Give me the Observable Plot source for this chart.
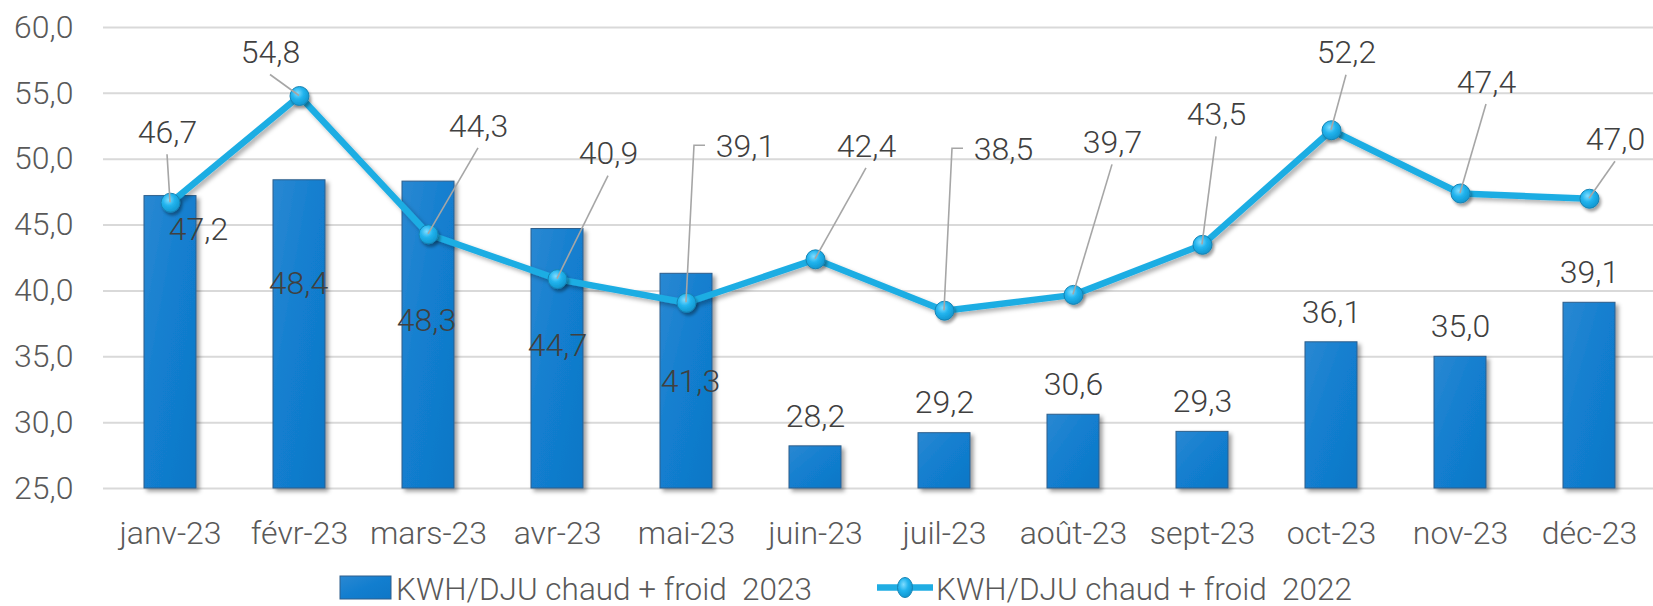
<!DOCTYPE html>
<html>
<head>
<meta charset="utf-8">
<script src="https://cdn.jsdelivr.net/npm/d3@7"></script>
<script src="https://cdn.jsdelivr.net/npm/@observablehq/plot@0.6"></script>
<style>
  body { margin: 0; background: #fff; width: 1653px; height: 606px; overflow: hidden; }
  #chart svg { display: block; overflow: visible; }
  g[aria-label="bar"] { filter: url(#barShadow); }
  g[aria-label="line"] { filter: url(#lineShadow); }
  g[aria-label="dot"] { filter: url(#dotShadow); }
  #legend { position: relative; height: 46px; }
</style>
</head>
<body>
<svg width="0" height="0" style="position:absolute">
  <defs>
    <linearGradient id="barGrad" x1="0" y1="0" x2="1" y2="1">
      <stop offset="0" stop-color="#2a88d2"/>
      <stop offset="0.5" stop-color="#127ecf"/>
      <stop offset="1" stop-color="#0f77c6"/>
    </linearGradient>
    <radialGradient id="dotGrad" cx="0.4" cy="0.35" r="0.7">
      <stop offset="0" stop-color="#7fdcff"/>
      <stop offset="0.45" stop-color="#22b4ee"/>
      <stop offset="1" stop-color="#0e93cc"/>
    </radialGradient>
    <filter id="barShadow" x="-20%" y="-20%" width="150%" height="150%">
      <feDropShadow dx="3" dy="3" stdDeviation="2" flood-color="#000" flood-opacity="0.38"/>
    </filter>
    <filter id="lineShadow" x="-5%" y="-20%" width="115%" height="150%">
      <feDropShadow dx="3" dy="3" stdDeviation="2" flood-color="#000" flood-opacity="0.3"/>
    </filter>
    <filter id="dotShadow" x="-5%" y="-20%" width="115%" height="150%">
      <feDropShadow dx="2" dy="3" stdDeviation="1.5" flood-color="#000" flood-opacity="0.35"/>
    </filter>
  </defs>
</svg>
<div id="chart"></div>
<div id="legend"></div>
<script>
// ---- data ----
const months = ["janv-23","févr-23","mars-23","avr-23","mai-23","juin-23","juil-23","août-23","sept-23","oct-23","nov-23","déc-23"];
const kwh2023 = [47.2, 48.4, 48.3, 44.7, 41.3, 28.2, 29.2, 30.6, 29.3, 36.1, 35.0, 39.1];
const kwh2022 = [46.7, 54.8, 44.3, 40.9, 39.1, 42.4, 38.5, 39.7, 43.5, 52.2, 47.4, 47.0];
const yTicks = [25, 30, 35, 40, 45, 50, 55, 60];
const seriesNames = ["KWH/DJU chaud + froid  2023", "KWH/DJU chaud + froid  2022"];

// ---- layout (label placement offsets in px, as placed in the original) ----
const barLabelOffsets = [[28,34],[-1,103],[-2,139],[0,117],[4,108],[0,-30],[0,-30],[0,-30],[0,-30],[0,-30],[0,-30],[0,-30]];
const lineLabelOffsets = [[-3,-70],[-29,-43],[50,-108],[51,-125],[59,-156],[51,-113],[59,-161],[39,-152],[14,-130],[15,-77],[26,-111],[26,-59]];
const elbowLeader = [false,false,false,false,true,false,true,false,false,false,false,false];

const rows = months.map((m, i) => ({month: m, v23: kwh2023[i], v22: kwh2022[i], i}));
const fmt = v => v.toFixed(1).replace(".", ",");

const font = {fontFamily: "Roboto, 'Liberation Sans', sans-serif", fontWeight: 300};
const labelStyle = {...font, fontSize: 32, fill: "#404040"};

function leaders(index, scales) {
  const sx = scales.x, sy = scales.y;
  const bw = typeof sx.bandwidth === "function" ? sx.bandwidth() : 0;
  const g = d3.create("svg:g").attr("fill", "none").attr("stroke", "#a6a6a6").attr("stroke-width", 1.6);
  rows.forEach((d, i) => {
    const px = sx(d.month) + bw / 2, py = sy(d.v22);
    const [dx, dy] = lineLabelOffsets[i];
    const lx = px + dx, ly = py + dy;
    const pts = elbowLeader[i]
      ? [[px, py], [px + 8, ly - 1], [lx - 40, ly - 1]]
      : [[lx, ly + 22], [px, py]];
    g.append("path").attr("d", d3.line()(pts));
  });
  return g.node();
}

const chart = Plot.plot({
  width: 1653,
  height: 560,
  marginTop: 27,
  marginBottom: 72,
  marginLeft: 103,
  marginRight: 0,
  style: {...font, fontSize: "32px", color: "#595959", background: "white", overflow: "visible"},
  x: {domain: months, range: [103, 1656], paddingInner: 0.6, paddingOuter: 0.3, align: 0.5, tickSize: 0, tickPadding: 33, label: null},
  y: {domain: [yTicks[0], yTicks[yTicks.length - 1]], ticks: yTicks, tickFormat: fmt, tickSize: 0, tickPadding: 30, label: null},
  marks: [
    Plot.ruleY(yTicks, {stroke: "#d9d9d9", strokeWidth: 2}),
    Plot.barY(rows, {x: "month", y1: yTicks[0], y2: "v23", fill: "url(#barGrad)", stroke: "#2f5f8c", strokeWidth: 1}),
    Plot.line(rows, {x: "month", y: "v22", stroke: "#1fade3", strokeWidth: 6.5, strokeLinejoin: "round"}),
    Plot.dot(rows, {x: "month", y: "v22", r: 9.5, fill: "url(#dotGrad)", stroke: "#1683b3", strokeWidth: 1}),
    leaders,
    ...rows.map((d, i) => Plot.text([d], {x: "month", y: "v23", text: r => fmt(r.v23), dx: barLabelOffsets[i][0], dy: barLabelOffsets[i][1], ...labelStyle})),
    ...rows.map((d, i) => Plot.text([d], {x: "month", y: "v22", text: r => fmt(r.v22), dx: lineLabelOffsets[i][0], dy: lineLabelOffsets[i][1], ...labelStyle}))
  ]
});
document.getElementById("chart").appendChild(chart);

// ---- legend ----
const lg = d3.select("#legend").append("svg").attr("width", 1653).attr("height", 46)
  .style("position", "absolute").style("left", "0px").style("top", "0px");
lg.append("rect").attr("x", 340).attr("y", 16).attr("width", 51).attr("height", 23)
  .attr("fill", "url(#barGrad)").attr("stroke", "#2f5f8c").attr("stroke-width", 1);
lg.append("text").attr("x", 396).attr("y", 39.5).text(seriesNames[0]);
lg.append("line").attr("x1", 877).attr("x2", 933).attr("y1", 27.5).attr("y2", 27.5)
  .attr("stroke", "#1fade3").attr("stroke-width", 6.5);
lg.append("ellipse").attr("cx", 905).attr("cy", 27.5).attr("rx", 7.5).attr("ry", 10)
  .attr("fill", "url(#dotGrad)").attr("stroke", "#1683b3").attr("stroke-width", 1);
lg.append("text").attr("x", 936).attr("y", 39.5).text(seriesNames[1]);
lg.selectAll("text").attr("font-family", "Roboto, 'Liberation Sans', sans-serif")
  .attr("font-weight", 300).attr("font-size", 31.5).attr("fill", "#595959")
  .style("white-space", "pre").attr("xml:space", "preserve");
</script>
</body>
</html>
